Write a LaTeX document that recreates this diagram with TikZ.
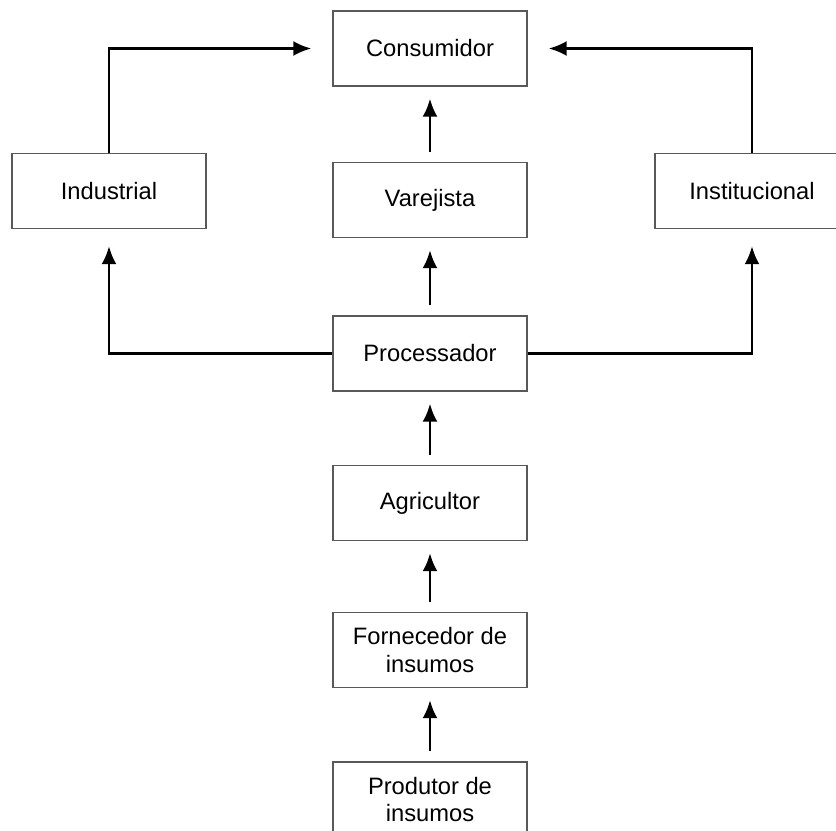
\documentclass[tikz,border=0pt]{standalone}
\usepackage{fontspec}
\setmainfont{Liberation Sans}
\usepackage{tikz}
\usetikzlibrary{arrows.meta}
\tikzset{box/.style = {draw = black!65, line width = 0.8pt, minimum width = 3.88cm, minimum height = 1.5cm,
    inner sep = 0, align = center, font = \fontsize{13.5}{15.4}\selectfont},
  arr/.style = {line width = 1.5pt, -{Latex[length = 0.36cm, width = 0.3cm]}},
  gap/.style = {shorten < = 0.2cm, shorten > = 0.24cm}}

\begin{document}
\begin{tikzpicture}[x = 0.02cm, y = -0.02cm]
      \clip (0, 0) rectangle (836, 831);
      \fill [white] (0, 0) rectangle (836, 831);

      \node [box] (cons) at (430, 48.5) {Consumidor};
      \node [box] (ind) at (109, 191) {Industrial};
      \node [box] (var) at (430, 200) {Varejista};
      \node [box] (inst) at (752, 191) {Institucional};
      \node [box] (proc) at (430, 353.5) {Processador};
      \node [box] (agr) at (430, 503) {Agricultor};
      \node [box] (forn) at (430, 650) {Fornecedor de\\insumos};
      \node [box] (prod) at (430, 799.5) {Produtor de\\insumos};

      \draw [arr, gap] (prod) -- (forn);
      \draw [arr, gap] (forn) -- (agr);
      \draw [arr, gap] (agr) -- (proc);
      \draw [arr, gap] (proc) -- (var);
      \draw [arr, gap] (var) -- (cons);

      \draw [arr, shorten > = 0.34cm] (proc) -| (ind);
      \draw [arr, shorten > = 0.34cm] (proc) -| (inst);
      \draw [arr, shorten > = 0.42cm] (ind) |- (cons);
      \draw [arr, shorten > = 0.42cm] (inst) |- (cons);
    \end{tikzpicture}
\end{document}
